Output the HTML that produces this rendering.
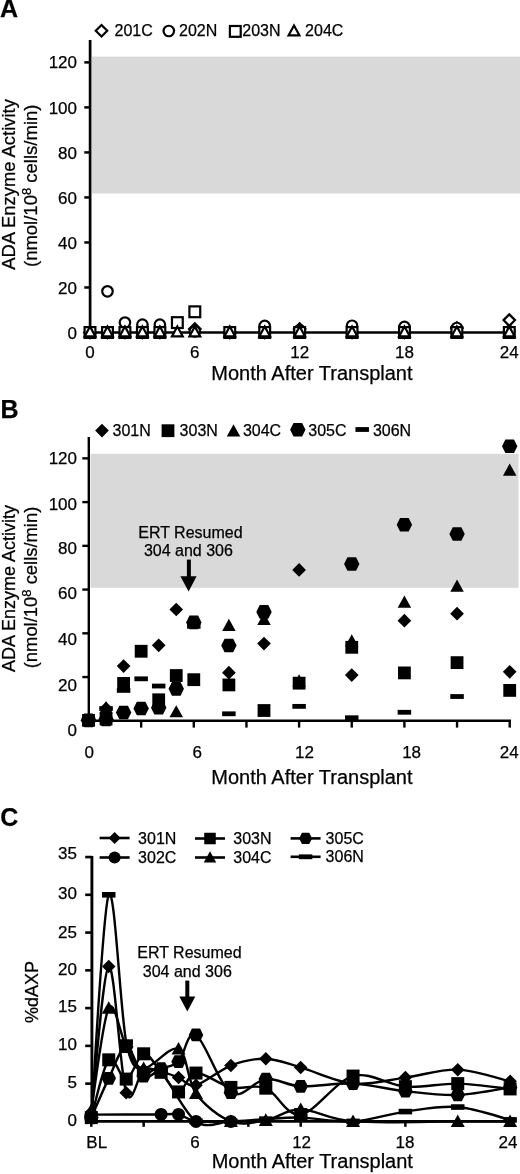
<!DOCTYPE html>
<html><head><meta charset="utf-8"><style>
html,body{margin:0;padding:0;background:#fff;}
svg{display:block;filter:grayscale(1);}
text{font-family:"Liberation Sans", sans-serif;fill:#000;stroke:#000;stroke-width:0.25px;}
</style></head><body>
<svg width="520" height="1174" viewBox="0 0 520 1174">
<rect width="520" height="1174" fill="#fff"/>
<text x="0" y="17.4" font-size="25" text-anchor="start" font-weight="bold" >A</text>
<rect x="92" y="56.6" width="428" height="136.9" fill="#d9d9d9"/>
<line x1="90.1" y1="40" x2="90.1" y2="334" stroke="#000" stroke-width="2.7"/>
<line x1="84.3" y1="332.5" x2="90.1" y2="332.5" stroke="#000" stroke-width="2.5"/>
<text x="77" y="338.6" font-size="17" text-anchor="end" font-weight="normal" >0</text>
<line x1="84.3" y1="287.48" x2="90.1" y2="287.48" stroke="#000" stroke-width="2.5"/>
<text x="77" y="293.58" font-size="17" text-anchor="end" font-weight="normal" >20</text>
<line x1="84.3" y1="242.46" x2="90.1" y2="242.46" stroke="#000" stroke-width="2.5"/>
<text x="77" y="248.56" font-size="17" text-anchor="end" font-weight="normal" >40</text>
<line x1="84.3" y1="197.44" x2="90.1" y2="197.44" stroke="#000" stroke-width="2.5"/>
<text x="77" y="203.54" font-size="17" text-anchor="end" font-weight="normal" >60</text>
<line x1="84.3" y1="152.42" x2="90.1" y2="152.42" stroke="#000" stroke-width="2.5"/>
<text x="77" y="158.52" font-size="17" text-anchor="end" font-weight="normal" >80</text>
<line x1="84.3" y1="107.4" x2="90.1" y2="107.4" stroke="#000" stroke-width="2.5"/>
<text x="77" y="113.5" font-size="17" text-anchor="end" font-weight="normal" >100</text>
<line x1="84.3" y1="62.38" x2="90.1" y2="62.38" stroke="#000" stroke-width="2.5"/>
<text x="77" y="68.48" font-size="17" text-anchor="end" font-weight="normal" >120</text>
<line x1="89" y1="332.5" x2="510" y2="332.5" stroke="#000" stroke-width="2.7"/>
<text x="90" y="358" font-size="17" text-anchor="middle" font-weight="normal" >0</text>
<text x="194.82" y="358" font-size="17" text-anchor="middle" font-weight="normal" >6</text>
<text x="299.64" y="358" font-size="17" text-anchor="middle" font-weight="normal" >12</text>
<text x="404.46" y="358" font-size="17" text-anchor="middle" font-weight="normal" >18</text>
<text x="509.28" y="358" font-size="17" text-anchor="middle" font-weight="normal" >24</text>
<text x="311.9" y="379.9" font-size="20" text-anchor="middle" font-weight="normal" >Month After Transplant</text>
<text transform="translate(15.4,184.5) rotate(-90)" font-size="18.4" text-anchor="middle">ADA Enzyme Activity</text>
<text transform="translate(37,185.8) rotate(-90)" font-size="18.5" text-anchor="middle">(nmol/10<tspan font-size="13" dy="-6.5">8</tspan><tspan dy="6.5"> cells/min)</tspan></text>
<polygon points="101.5,25.05 107.25,30.8 101.5,36.55 95.75,30.8" fill="#fff" stroke="#000" stroke-width="2.2"/>
<text x="114.5" y="36.3" font-size="16" text-anchor="start" font-weight="normal" >201C</text>
<circle cx="168.8" cy="31" r="5.25" fill="#fff" stroke="#000" stroke-width="2.2"/>
<text x="179" y="36.3" font-size="16" text-anchor="start" font-weight="normal" >202N</text>
<rect x="229.9" y="26" width="10.8" height="10.8" fill="#fff" stroke="#000" stroke-width="2.2"/>
<text x="242.3" y="36.3" font-size="16" text-anchor="start" font-weight="normal" >203N</text>
<polygon points="294,25.46 299.4,35.29 288.6,35.29" fill="#fff" stroke="#000" stroke-width="2.2"/>
<text x="305.1" y="36.3" font-size="16" text-anchor="start" font-weight="normal" >204C</text>
<polygon points="90,326.75 95.75,332.5 90,338.25 84.25,332.5" fill="#fff" stroke="#000" stroke-width="2.2"/>
<polygon points="107.47,326.75 113.22,332.5 107.47,338.25 101.72,332.5" fill="#fff" stroke="#000" stroke-width="2.2"/>
<polygon points="124.94,326.75 130.69,332.5 124.94,338.25 119.19,332.5" fill="#fff" stroke="#000" stroke-width="2.2"/>
<polygon points="142.41,326.75 148.16,332.5 142.41,338.25 136.66,332.5" fill="#fff" stroke="#000" stroke-width="2.2"/>
<polygon points="159.88,326.75 165.63,332.5 159.88,338.25 154.13,332.5" fill="#fff" stroke="#000" stroke-width="2.2"/>
<polygon points="194.82,323.37 200.57,329.12 194.82,334.87 189.07,329.12" fill="#fff" stroke="#000" stroke-width="2.2"/>
<polygon points="229.76,326.75 235.51,332.5 229.76,338.25 224.01,332.5" fill="#fff" stroke="#000" stroke-width="2.2"/>
<polygon points="264.7,326.75 270.45,332.5 264.7,338.25 258.95,332.5" fill="#fff" stroke="#000" stroke-width="2.2"/>
<polygon points="299.64,323.37 305.39,329.12 299.64,334.87 293.89,329.12" fill="#fff" stroke="#000" stroke-width="2.2"/>
<polygon points="352.05,326.75 357.8,332.5 352.05,338.25 346.3,332.5" fill="#fff" stroke="#000" stroke-width="2.2"/>
<polygon points="404.46,326.75 410.21,332.5 404.46,338.25 398.71,332.5" fill="#fff" stroke="#000" stroke-width="2.2"/>
<polygon points="456.87,322.25 462.62,328 456.87,333.75 451.12,328" fill="#fff" stroke="#000" stroke-width="2.2"/>
<polygon points="509.28,314.37 515.03,320.12 509.28,325.87 503.53,320.12" fill="#fff" stroke="#000" stroke-width="2.2"/>
<circle cx="90" cy="332.5" r="5.25" fill="#fff" stroke="#000" stroke-width="2.2"/>
<circle cx="107.47" cy="291.31" r="5.25" fill="#fff" stroke="#000" stroke-width="2.2"/>
<circle cx="124.94" cy="322.6" r="5.25" fill="#fff" stroke="#000" stroke-width="2.2"/>
<circle cx="142.41" cy="324.62" r="5.25" fill="#fff" stroke="#000" stroke-width="2.2"/>
<circle cx="159.88" cy="324.62" r="5.25" fill="#fff" stroke="#000" stroke-width="2.2"/>
<circle cx="194.82" cy="331.37" r="5.25" fill="#fff" stroke="#000" stroke-width="2.2"/>
<circle cx="229.76" cy="332.5" r="5.25" fill="#fff" stroke="#000" stroke-width="2.2"/>
<circle cx="264.7" cy="325.97" r="5.25" fill="#fff" stroke="#000" stroke-width="2.2"/>
<circle cx="299.64" cy="330.25" r="5.25" fill="#fff" stroke="#000" stroke-width="2.2"/>
<circle cx="352.05" cy="325.75" r="5.25" fill="#fff" stroke="#000" stroke-width="2.2"/>
<circle cx="404.46" cy="326.87" r="5.25" fill="#fff" stroke="#000" stroke-width="2.2"/>
<circle cx="456.87" cy="328" r="5.25" fill="#fff" stroke="#000" stroke-width="2.2"/>
<circle cx="509.28" cy="331.37" r="5.25" fill="#fff" stroke="#000" stroke-width="2.2"/>
<rect x="84.6" y="327.1" width="10.8" height="10.8" fill="#fff" stroke="#000" stroke-width="2.2"/>
<rect x="102.07" y="327.1" width="10.8" height="10.8" fill="#fff" stroke="#000" stroke-width="2.2"/>
<rect x="119.54" y="327.1" width="10.8" height="10.8" fill="#fff" stroke="#000" stroke-width="2.2"/>
<rect x="137.01" y="327.1" width="10.8" height="10.8" fill="#fff" stroke="#000" stroke-width="2.2"/>
<rect x="154.48" y="327.1" width="10.8" height="10.8" fill="#fff" stroke="#000" stroke-width="2.2"/>
<rect x="171.95" y="317.2" width="10.8" height="10.8" fill="#fff" stroke="#000" stroke-width="2.2"/>
<rect x="189.42" y="306.39" width="10.8" height="10.8" fill="#fff" stroke="#000" stroke-width="2.2"/>
<rect x="224.36" y="327.1" width="10.8" height="10.8" fill="#fff" stroke="#000" stroke-width="2.2"/>
<rect x="259.3" y="327.1" width="10.8" height="10.8" fill="#fff" stroke="#000" stroke-width="2.2"/>
<rect x="294.24" y="327.1" width="10.8" height="10.8" fill="#fff" stroke="#000" stroke-width="2.2"/>
<rect x="346.65" y="327.1" width="10.8" height="10.8" fill="#fff" stroke="#000" stroke-width="2.2"/>
<rect x="399.06" y="327.1" width="10.8" height="10.8" fill="#fff" stroke="#000" stroke-width="2.2"/>
<rect x="451.47" y="327.1" width="10.8" height="10.8" fill="#fff" stroke="#000" stroke-width="2.2"/>
<rect x="503.88" y="327.1" width="10.8" height="10.8" fill="#fff" stroke="#000" stroke-width="2.2"/>
<polygon points="90,326.56 95.4,336.39 84.6,336.39" fill="#fff" stroke="#000" stroke-width="2.2"/>
<polygon points="107.47,326.56 112.87,336.39 102.07,336.39" fill="#fff" stroke="#000" stroke-width="2.2"/>
<polygon points="124.94,326.56 130.34,336.39 119.54,336.39" fill="#fff" stroke="#000" stroke-width="2.2"/>
<polygon points="142.41,326.56 147.81,336.39 137.01,336.39" fill="#fff" stroke="#000" stroke-width="2.2"/>
<polygon points="159.88,326.56 165.28,336.39 154.48,336.39" fill="#fff" stroke="#000" stroke-width="2.2"/>
<polygon points="177.35,326.56 182.75,336.39 171.95,336.39" fill="#fff" stroke="#000" stroke-width="2.2"/>
<polygon points="194.82,326.56 200.22,336.39 189.42,336.39" fill="#fff" stroke="#000" stroke-width="2.2"/>
<polygon points="229.76,326.56 235.16,336.39 224.36,336.39" fill="#fff" stroke="#000" stroke-width="2.2"/>
<polygon points="264.7,326.56 270.1,336.39 259.3,336.39" fill="#fff" stroke="#000" stroke-width="2.2"/>
<polygon points="299.64,326.56 305.04,336.39 294.24,336.39" fill="#fff" stroke="#000" stroke-width="2.2"/>
<polygon points="352.05,326.56 357.45,336.39 346.65,336.39" fill="#fff" stroke="#000" stroke-width="2.2"/>
<polygon points="404.46,326.56 409.86,336.39 399.06,336.39" fill="#fff" stroke="#000" stroke-width="2.2"/>
<polygon points="456.87,326.56 462.27,336.39 451.47,336.39" fill="#fff" stroke="#000" stroke-width="2.2"/>
<polygon points="509.28,326.56 514.68,336.39 503.88,336.39" fill="#fff" stroke="#000" stroke-width="2.2"/>
<text x="0.5" y="418.2" font-size="25" text-anchor="start" font-weight="bold" >B</text>
<rect x="90.5" y="453.8" width="428" height="134" fill="#d9d9d9"/>
<line x1="88.8" y1="437" x2="88.8" y2="722" stroke="#000" stroke-width="2.4"/>
<text x="77" y="736.1" font-size="17" text-anchor="end" font-weight="normal" >0</text>
<line x1="82.3" y1="677.06" x2="88.8" y2="677.06" stroke="#000" stroke-width="2.4"/>
<text x="77" y="690.7" font-size="17" text-anchor="end" font-weight="normal" >20</text>
<line x1="82.3" y1="633.32" x2="88.8" y2="633.32" stroke="#000" stroke-width="2.4"/>
<text x="77" y="645" font-size="17" text-anchor="end" font-weight="normal" >40</text>
<line x1="82.3" y1="589.58" x2="88.8" y2="589.58" stroke="#000" stroke-width="2.4"/>
<text x="77" y="598.9" font-size="17" text-anchor="end" font-weight="normal" >60</text>
<line x1="82.3" y1="545.84" x2="88.8" y2="545.84" stroke="#000" stroke-width="2.4"/>
<text x="77" y="554.1" font-size="17" text-anchor="end" font-weight="normal" >80</text>
<line x1="82.3" y1="502.1" x2="88.8" y2="502.1" stroke="#000" stroke-width="2.4"/>
<text x="77" y="509.7" font-size="17" text-anchor="end" font-weight="normal" >100</text>
<line x1="82.3" y1="458.36" x2="88.8" y2="458.36" stroke="#000" stroke-width="2.4"/>
<text x="77" y="463.7" font-size="17" text-anchor="end" font-weight="normal" >120</text>
<line x1="87.6" y1="720.8" x2="511" y2="720.8" stroke="#000" stroke-width="2.4"/>
<line x1="141.15" y1="720.8" x2="141.15" y2="727.6" stroke="#000" stroke-width="2.4"/>
<line x1="193.8" y1="720.8" x2="193.8" y2="727.6" stroke="#000" stroke-width="2.4"/>
<line x1="246.45" y1="720.8" x2="246.45" y2="727.6" stroke="#000" stroke-width="2.4"/>
<line x1="299.1" y1="720.8" x2="299.1" y2="727.6" stroke="#000" stroke-width="2.4"/>
<line x1="351.75" y1="720.8" x2="351.75" y2="727.6" stroke="#000" stroke-width="2.4"/>
<line x1="404.4" y1="720.8" x2="404.4" y2="727.6" stroke="#000" stroke-width="2.4"/>
<line x1="457.05" y1="720.8" x2="457.05" y2="727.6" stroke="#000" stroke-width="2.4"/>
<line x1="509.7" y1="720.8" x2="509.7" y2="727.6" stroke="#000" stroke-width="2.4"/>
<text x="89.2" y="758.3" font-size="17" text-anchor="middle" font-weight="normal" >0</text>
<text x="197.3" y="758.3" font-size="17" text-anchor="middle" font-weight="normal" >6</text>
<text x="304.5" y="758.3" font-size="17" text-anchor="middle" font-weight="normal" >12</text>
<text x="411.6" y="758.3" font-size="17" text-anchor="middle" font-weight="normal" >18</text>
<text x="509.3" y="758.3" font-size="17" text-anchor="middle" font-weight="normal" >24</text>
<text x="311.9" y="784.4" font-size="20" text-anchor="middle" font-weight="normal" >Month After Transplant</text>
<text transform="translate(15.4,588.5) rotate(-90)" font-size="18" text-anchor="middle">ADA Enzyme Activity</text>
<text transform="translate(37,587.5) rotate(-90)" font-size="18.4" text-anchor="middle">(nmol/10<tspan font-size="13" dy="-6.5">8</tspan><tspan dy="6.5"> cells/min)</tspan></text>
<polygon points="102,423.75 108.85,430.6 102,437.45 95.15,430.6" fill="#000" stroke="#000" stroke-width="0"/>
<text x="112.5" y="435.6" font-size="16" text-anchor="start" font-weight="normal" >301N</text>
<rect x="161.6" y="424.3" width="12.8" height="12.8" fill="#000" stroke="#000" stroke-width="0"/>
<text x="179.6" y="435.6" font-size="16" text-anchor="start" font-weight="normal" >303N</text>
<polygon points="233.5,424.32 240.25,436.47 226.75,436.47" fill="#000" stroke="#000" stroke-width="0"/>
<text x="242.9" y="435.6" font-size="16" text-anchor="start" font-weight="normal" >304C</text>
<polygon points="290.1,429.7 293.49,422.92 302.11,422.92 305.5,429.7 302.11,436.48 293.49,436.48" fill="#000" stroke="#000" stroke-width="0"/>
<text x="308.3" y="435.6" font-size="16" text-anchor="start" font-weight="normal" >305C</text>
<rect x="355.45" y="427.1" width="13.5" height="4.8" fill="#000" stroke="#000" stroke-width="0"/>
<text x="372.9" y="435.6" font-size="16" text-anchor="start" font-weight="normal" >306N</text>
<text x="190.4" y="538" font-size="16" text-anchor="middle" font-weight="normal" >ERT Resumed</text>
<text x="188.4" y="556" font-size="16" text-anchor="middle" font-weight="normal" >304 and 306</text>
<rect x="186.9" y="559.6" width="4" height="19" fill="#000"/>
<polygon points="180.4,576.3 196.6,576.3 188.6,591.5" fill="#000"/>
<polygon points="88.5,713.29 95.35,720.14 88.5,726.99 81.65,720.14" fill="#000" stroke="#000" stroke-width="0"/>
<polygon points="106.05,701.7 112.9,708.55 106.05,715.4 99.2,708.55" fill="#000" stroke="#000" stroke-width="0"/>
<polygon points="123.6,659.27 130.45,666.12 123.6,672.98 116.75,666.12" fill="#000" stroke="#000" stroke-width="0"/>
<polygon points="158.7,638.5 165.55,645.35 158.7,652.2 151.85,645.35" fill="#000" stroke="#000" stroke-width="0"/>
<polygon points="176.25,602.63 183.1,609.48 176.25,616.33 169.4,609.48" fill="#000" stroke="#000" stroke-width="0"/>
<polygon points="228.9,665.84 235.75,672.69 228.9,679.54 222.05,672.69" fill="#000" stroke="#000" stroke-width="0"/>
<polygon points="264,636.75 270.85,643.6 264,650.45 257.15,643.6" fill="#000" stroke="#000" stroke-width="0"/>
<polygon points="299.1,563.05 305.95,569.9 299.1,576.75 292.25,569.9" fill="#000" stroke="#000" stroke-width="0"/>
<polygon points="351.75,668.24 358.6,675.09 351.75,681.94 344.9,675.09" fill="#000" stroke="#000" stroke-width="0"/>
<polygon points="404.4,613.79 411.25,620.64 404.4,627.49 397.55,620.64" fill="#000" stroke="#000" stroke-width="0"/>
<polygon points="457.05,606.79 463.9,613.64 457.05,620.49 450.2,613.64" fill="#000" stroke="#000" stroke-width="0"/>
<polygon points="509.7,664.96 516.55,671.81 509.7,678.66 502.85,671.81" fill="#000" stroke="#000" stroke-width="0"/>
<rect x="82.1" y="713.96" width="12.8" height="12.8" fill="#000" stroke="#000" stroke-width="0"/>
<rect x="99.65" y="712.65" width="12.8" height="12.8" fill="#000" stroke="#000" stroke-width="0"/>
<rect x="117.2" y="677" width="12.8" height="12.8" fill="#000" stroke="#000" stroke-width="0"/>
<rect x="134.75" y="644.85" width="12.8" height="12.8" fill="#000" stroke="#000" stroke-width="0"/>
<rect x="152.3" y="693.4" width="12.8" height="12.8" fill="#000" stroke="#000" stroke-width="0"/>
<rect x="169.85" y="669.13" width="12.8" height="12.8" fill="#000" stroke="#000" stroke-width="0"/>
<rect x="187.4" y="673.28" width="12.8" height="12.8" fill="#000" stroke="#000" stroke-width="0"/>
<rect x="222.5" y="678.53" width="12.8" height="12.8" fill="#000" stroke="#000" stroke-width="0"/>
<rect x="257.6" y="704.12" width="12.8" height="12.8" fill="#000" stroke="#000" stroke-width="0"/>
<rect x="292.7" y="676.78" width="12.8" height="12.8" fill="#000" stroke="#000" stroke-width="0"/>
<rect x="345.35" y="640.92" width="12.8" height="12.8" fill="#000" stroke="#000" stroke-width="0"/>
<rect x="398" y="666.5" width="12.8" height="12.8" fill="#000" stroke="#000" stroke-width="0"/>
<rect x="450.65" y="656.23" width="12.8" height="12.8" fill="#000" stroke="#000" stroke-width="0"/>
<rect x="503.3" y="684" width="12.8" height="12.8" fill="#000" stroke="#000" stroke-width="0"/>
<polygon points="88.5,713.68 95.25,725.83 81.75,725.83" fill="#000" stroke="#000" stroke-width="0"/>
<polygon points="106.05,701 112.8,713.15 99.3,713.15" fill="#000" stroke="#000" stroke-width="0"/>
<polygon points="176.25,705.15 183,717.3 169.5,717.3" fill="#000" stroke="#000" stroke-width="0"/>
<polygon points="228.9,618.76 235.65,630.91 222.15,630.91" fill="#000" stroke="#000" stroke-width="0"/>
<polygon points="264,612.86 270.75,625.01 257.25,625.01" fill="#000" stroke="#000" stroke-width="0"/>
<polygon points="299.1,674.31 305.85,686.46 292.35,686.46" fill="#000" stroke="#000" stroke-width="0"/>
<polygon points="351.75,634.29 358.5,646.44 345,646.44" fill="#000" stroke="#000" stroke-width="0"/>
<polygon points="404.4,595.58 411.15,607.73 397.65,607.73" fill="#000" stroke="#000" stroke-width="0"/>
<polygon points="457.05,579.62 463.8,591.77 450.3,591.77" fill="#000" stroke="#000" stroke-width="0"/>
<polygon points="509.7,463.49 516.45,475.64 502.95,475.64" fill="#000" stroke="#000" stroke-width="0"/>
<polygon points="80.8,720.36 84.19,713.59 92.81,713.59 96.2,720.36 92.81,727.14 84.19,727.14" fill="#000" stroke="#000" stroke-width="0"/>
<polygon points="98.35,719.49 101.74,712.71 110.36,712.71 113.75,719.49 110.36,726.26 101.74,726.26" fill="#000" stroke="#000" stroke-width="0"/>
<polygon points="115.9,712.49 119.29,705.71 127.91,705.71 131.3,712.49 127.91,719.27 119.29,719.27" fill="#000" stroke="#000" stroke-width="0"/>
<polygon points="133.45,708.55 136.84,701.78 145.46,701.78 148.85,708.55 145.46,715.33 136.84,715.33" fill="#000" stroke="#000" stroke-width="0"/>
<polygon points="151,707.68 154.39,700.9 163.01,700.9 166.4,707.68 163.01,714.45 154.39,714.45" fill="#000" stroke="#000" stroke-width="0"/>
<polygon points="168.55,688.87 171.94,682.09 180.56,682.09 183.95,688.87 180.56,695.65 171.94,695.65" fill="#000" stroke="#000" stroke-width="0"/>
<polygon points="186.1,622.38 189.49,615.61 198.11,615.61 201.5,622.38 198.11,629.16 189.49,629.16" fill="#000" stroke="#000" stroke-width="0"/>
<polygon points="221.2,645.57 224.59,638.79 233.21,638.79 236.6,645.57 233.21,652.34 224.59,652.34" fill="#000" stroke="#000" stroke-width="0"/>
<polygon points="256.3,611.89 259.69,605.11 268.31,605.11 271.7,611.89 268.31,618.66 259.69,618.66" fill="#000" stroke="#000" stroke-width="0"/>
<polygon points="344.05,563.99 347.44,557.22 356.06,557.22 359.45,563.99 356.06,570.77 347.44,570.77" fill="#000" stroke="#000" stroke-width="0"/>
<polygon points="396.7,524.84 400.09,518.07 408.71,518.07 412.1,524.84 408.71,531.62 400.09,531.62" fill="#000" stroke="#000" stroke-width="0"/>
<polygon points="449.35,534.03 452.74,527.25 461.36,527.25 464.75,534.03 461.36,540.81 452.74,540.81" fill="#000" stroke="#000" stroke-width="0"/>
<polygon points="502,446.33 505.39,439.56 514.01,439.56 517.4,446.33 514.01,453.11 505.39,453.11" fill="#000" stroke="#000" stroke-width="0"/>
<rect x="81.75" y="717.31" width="13.5" height="4.8" fill="#000" stroke="#000" stroke-width="0"/>
<rect x="99.3" y="706.15" width="13.5" height="4.8" fill="#000" stroke="#000" stroke-width="0"/>
<rect x="116.85" y="688" width="13.5" height="4.8" fill="#000" stroke="#000" stroke-width="0"/>
<rect x="134.4" y="676.41" width="13.5" height="4.8" fill="#000" stroke="#000" stroke-width="0"/>
<rect x="151.95" y="683.63" width="13.5" height="4.8" fill="#000" stroke="#000" stroke-width="0"/>
<rect x="187.05" y="623.92" width="13.5" height="4.8" fill="#000" stroke="#000" stroke-width="0"/>
<rect x="222.15" y="711.4" width="13.5" height="4.8" fill="#000" stroke="#000" stroke-width="0"/>
<rect x="292.35" y="703.97" width="13.5" height="4.8" fill="#000" stroke="#000" stroke-width="0"/>
<rect x="345" y="715.34" width="13.5" height="4.8" fill="#000" stroke="#000" stroke-width="0"/>
<rect x="397.65" y="709.87" width="13.5" height="4.8" fill="#000" stroke="#000" stroke-width="0"/>
<rect x="450.3" y="694.12" width="13.5" height="4.8" fill="#000" stroke="#000" stroke-width="0"/>
<text x="0.3" y="826.4" font-size="25" text-anchor="start" font-weight="bold" >C</text>
<line x1="91.9" y1="856" x2="91.9" y2="1122.8" stroke="#000" stroke-width="2.9"/>
<line x1="85.2" y1="1121.4" x2="91.9" y2="1121.4" stroke="#000" stroke-width="2.6"/>
<text x="77" y="1126.1" font-size="17" text-anchor="end" font-weight="normal" >0</text>
<line x1="85.2" y1="1083.63" x2="91.9" y2="1083.63" stroke="#000" stroke-width="2.6"/>
<text x="77" y="1087.7" font-size="17" text-anchor="end" font-weight="normal" >5</text>
<line x1="85.2" y1="1045.87" x2="91.9" y2="1045.87" stroke="#000" stroke-width="2.6"/>
<text x="77" y="1050.1" font-size="17" text-anchor="end" font-weight="normal" >10</text>
<line x1="85.2" y1="1008.11" x2="91.9" y2="1008.11" stroke="#000" stroke-width="2.6"/>
<text x="77" y="1012.4" font-size="17" text-anchor="end" font-weight="normal" >15</text>
<line x1="85.2" y1="970.34" x2="91.9" y2="970.34" stroke="#000" stroke-width="2.6"/>
<text x="77" y="974.6" font-size="17" text-anchor="end" font-weight="normal" >20</text>
<line x1="85.2" y1="932.58" x2="91.9" y2="932.58" stroke="#000" stroke-width="2.6"/>
<text x="77" y="937.7" font-size="17" text-anchor="end" font-weight="normal" >25</text>
<line x1="85.2" y1="894.81" x2="91.9" y2="894.81" stroke="#000" stroke-width="2.6"/>
<text x="77" y="898.7" font-size="17" text-anchor="end" font-weight="normal" >30</text>
<line x1="85.2" y1="857.05" x2="91.9" y2="857.05" stroke="#000" stroke-width="2.6"/>
<text x="77" y="859.4" font-size="17" text-anchor="end" font-weight="normal" >35</text>
<line x1="90.5" y1="1121.4" x2="511" y2="1121.4" stroke="#000" stroke-width="2.7"/>
<line x1="91.3" y1="1121.4" x2="91.3" y2="1126.8" stroke="#000" stroke-width="2.5"/>
<line x1="143.65" y1="1121.4" x2="143.65" y2="1126.8" stroke="#000" stroke-width="2.5"/>
<line x1="196" y1="1121.4" x2="196" y2="1126.8" stroke="#000" stroke-width="2.5"/>
<line x1="248.35" y1="1121.4" x2="248.35" y2="1126.8" stroke="#000" stroke-width="2.5"/>
<line x1="300.7" y1="1121.4" x2="300.7" y2="1126.8" stroke="#000" stroke-width="2.5"/>
<line x1="353.05" y1="1121.4" x2="353.05" y2="1126.8" stroke="#000" stroke-width="2.5"/>
<line x1="405.4" y1="1121.4" x2="405.4" y2="1126.8" stroke="#000" stroke-width="2.5"/>
<line x1="457.75" y1="1121.4" x2="457.75" y2="1126.8" stroke="#000" stroke-width="2.5"/>
<line x1="510.1" y1="1121.4" x2="510.1" y2="1126.8" stroke="#000" stroke-width="2.5"/>
<text x="96.7" y="1148" font-size="17" text-anchor="middle" font-weight="normal" >BL</text>
<text x="195.1" y="1147.5" font-size="17" text-anchor="middle" font-weight="normal" >6</text>
<text x="301.6" y="1147.5" font-size="17" text-anchor="middle" font-weight="normal" >12</text>
<text x="404.9" y="1147.5" font-size="17" text-anchor="middle" font-weight="normal" >18</text>
<text x="508" y="1147.5" font-size="17" text-anchor="middle" font-weight="normal" >24</text>
<text x="312.3" y="1168.2" font-size="20" text-anchor="middle" font-weight="normal" >Month After Transplant</text>
<text transform="translate(37.5,992) rotate(-90)" font-size="18" text-anchor="middle">%dAXP</text>
<line x1="99.6" y1="838" x2="129.6" y2="838" stroke="#000" stroke-width="2.6"/>
<polygon points="114.6,832 120.6,838 114.6,844 108.6,838" fill="#000" stroke="#000" stroke-width="0"/>
<text x="138.1" y="843.6" font-size="16" text-anchor="start" font-weight="normal" >301N</text>
<line x1="99.6" y1="857.5" x2="129.6" y2="857.5" stroke="#000" stroke-width="2.6"/>
<circle cx="114.6" cy="857.5" r="6" fill="#000" stroke="#000" stroke-width="0"/>
<text x="138.1" y="863.1" font-size="16" text-anchor="start" font-weight="normal" >302C</text>
<line x1="195" y1="838.5" x2="225" y2="838.5" stroke="#000" stroke-width="2.6"/>
<rect x="204.25" y="832.75" width="11.5" height="11.5" fill="#000" stroke="#000" stroke-width="0"/>
<text x="233.3" y="844.1" font-size="16" text-anchor="start" font-weight="normal" >303N</text>
<line x1="195" y1="857.5" x2="225" y2="857.5" stroke="#000" stroke-width="2.6"/>
<polygon points="210,851.31 216.25,862.56 203.75,862.56" fill="#000" stroke="#000" stroke-width="0"/>
<text x="233.3" y="863.1" font-size="16" text-anchor="start" font-weight="normal" >304C</text>
<line x1="290.6" y1="838.4" x2="320.6" y2="838.4" stroke="#000" stroke-width="2.6"/>
<polygon points="299.1,838.4 301.96,832.68 309.24,832.68 312.1,838.4 309.24,844.12 301.96,844.12" fill="#000" stroke="#000" stroke-width="0"/>
<text x="325.6" y="844" font-size="16" text-anchor="start" font-weight="normal" >305C</text>
<line x1="290.6" y1="856.8" x2="320.6" y2="856.8" stroke="#000" stroke-width="2.6"/>
<rect x="298.85" y="854.4" width="13.5" height="4.8" fill="#000" stroke="#000" stroke-width="0"/>
<text x="325.6" y="862.4" font-size="16" text-anchor="start" font-weight="normal" >306N</text>
<text x="189.4" y="957.7" font-size="16" text-anchor="middle" font-weight="normal" >ERT Resumed</text>
<text x="187.3" y="977.1" font-size="16" text-anchor="middle" font-weight="normal" >304 and 306</text>
<rect x="185.3" y="980.6" width="4" height="19" fill="#000"/>
<polygon points="179.3,996.5 195.3,996.5 187.3,1011.5" fill="#000"/>
<path d="M91.3,1114.6 C102.93,1114.58 146.56,1114.48 161.1,1114.45 C175.64,1114.43 172.73,1113.29 178.55,1114.45 C184.37,1115.61 187.28,1120.24 196,1121.4 C204.72,1122.56 225.08,1121.4 230.9,1121.4" fill="none" stroke="#000" stroke-width="2.4"/>
<path d="M91.3,1117.62 C94.21,1080.49 102.93,907.4 108.75,894.81 C114.57,882.22 120.38,1012.51 126.2,1042.09 C132.02,1071.68 137.83,1067.27 143.65,1072.31 C149.47,1077.34 152.38,1064.12 161.1,1072.31 C169.82,1080.49 184.37,1113.22 196,1121.4 C207.63,1129.58 219.27,1121.78 230.9,1121.4 C242.53,1121.02 254.17,1119.76 265.8,1119.13 C277.43,1118.5 286.16,1117.25 300.7,1117.62 C315.24,1118 335.6,1122.41 353.05,1121.4 C370.5,1120.39 387.95,1113.97 405.4,1111.58 C422.85,1109.19 440.3,1105.66 457.75,1107.05 C475.2,1108.43 501.38,1117.75 510.1,1119.89" fill="none" stroke="#000" stroke-width="2.4"/>
<path d="M91.3,1113.85 C94.21,1089.3 102.93,970.09 108.75,966.56 C114.57,963.04 120.38,1075.45 126.2,1092.7 C132.02,1109.94 137.83,1073.56 143.65,1070.04 C149.47,1066.51 155.28,1070.29 161.1,1071.55 C166.92,1072.81 172.73,1075.33 178.55,1077.59 C184.37,1079.86 187.28,1087.16 196,1085.15 C204.72,1083.13 219.27,1069.91 230.9,1065.51 C242.53,1061.1 254.17,1058.4 265.8,1058.71 C277.43,1059.02 286.16,1063.24 300.7,1067.4 C315.24,1071.55 335.6,1081.94 353.05,1083.63 C370.5,1085.33 387.95,1079.92 405.4,1077.59 C422.85,1075.26 440.3,1069.03 457.75,1069.66 C475.2,1070.29 501.38,1079.42 510.1,1081.37" fill="none" stroke="#000" stroke-width="2.4"/>
<path d="M91.3,1110.07 C94.21,1093.08 102.93,1018.68 108.75,1008.11 C114.57,997.53 120.38,1036.55 126.2,1046.63 C132.02,1056.7 134.92,1068.15 143.65,1068.53 C152.37,1068.91 169.83,1044.74 178.55,1048.89 C187.28,1053.05 187.28,1081.37 196,1093.45 C204.72,1105.54 219.27,1116.93 230.9,1121.4 C242.53,1125.87 254.17,1122.28 265.8,1120.27 C277.43,1118.25 286.16,1109.13 300.7,1109.32 C315.24,1109.5 326.88,1119.39 353.05,1121.4 C379.23,1123.41 431.57,1121.4 457.75,1121.4 C483.93,1121.4 501.38,1121.4 510.1,1121.4" fill="none" stroke="#000" stroke-width="2.4"/>
<path d="M91.3,1117.62 C94.21,1107.99 102.93,1066.26 108.75,1059.84 C114.57,1053.42 120.38,1080.11 126.2,1079.1 C132.02,1078.1 137.83,1054.93 143.65,1053.8 C149.47,1052.67 155.28,1065.95 161.1,1072.31 C166.92,1078.66 172.73,1091.82 178.55,1091.94 C184.37,1092.07 187.28,1073.82 196,1073.06 C204.72,1072.31 219.27,1084.89 230.9,1087.41 C242.53,1089.93 254.17,1083.64 265.8,1088.17 C277.43,1092.7 286.16,1116.62 300.7,1114.6 C315.24,1112.59 335.6,1080.74 353.05,1076.08 C370.5,1071.42 387.95,1085.4 405.4,1086.66 C422.85,1087.92 440.3,1083.26 457.75,1083.63 C475.2,1084.01 501.38,1088.04 510.1,1088.92" fill="none" stroke="#000" stroke-width="2.4"/>
<path d="M91.3,1117.62 C94.21,1111.08 102.93,1090.18 108.75,1078.35 C114.57,1066.51 120.38,1047 126.2,1046.63 C132.02,1046.25 137.83,1072.43 143.65,1076.08 C149.47,1079.73 155.28,1070.92 161.1,1068.53 C166.92,1066.14 172.73,1067.33 178.55,1061.73 C184.37,1056.13 187.28,1029.76 196,1034.92 C204.72,1040.08 219.27,1085.33 230.9,1092.7 C242.53,1100.06 254.17,1080.17 265.8,1079.1 C277.43,1078.03 286.16,1085.52 300.7,1086.28 C315.24,1087.03 335.6,1082.82 353.05,1083.63 C370.5,1084.45 387.95,1089.3 405.4,1091.19 C422.85,1093.08 440.3,1095.59 457.75,1094.96 C475.2,1094.34 501.38,1088.67 510.1,1087.41" fill="none" stroke="#000" stroke-width="2.4"/>
<circle cx="91.3" cy="1114.6" r="6.5" fill="#000" stroke="#000" stroke-width="0"/>
<circle cx="161.1" cy="1114.45" r="6.5" fill="#000" stroke="#000" stroke-width="0"/>
<circle cx="178.55" cy="1114.45" r="6.5" fill="#000" stroke="#000" stroke-width="0"/>
<circle cx="196" cy="1121.4" r="6.5" fill="#000" stroke="#000" stroke-width="0"/>
<circle cx="230.9" cy="1121.4" r="6.5" fill="#000" stroke="#000" stroke-width="0"/>
<rect x="84.55" y="1114.82" width="13.5" height="5.6" fill="#000" stroke="#000" stroke-width="0"/>
<rect x="102" y="892.01" width="13.5" height="5.6" fill="#000" stroke="#000" stroke-width="0"/>
<rect x="119.45" y="1039.29" width="13.5" height="5.6" fill="#000" stroke="#000" stroke-width="0"/>
<rect x="136.9" y="1069.51" width="13.5" height="5.6" fill="#000" stroke="#000" stroke-width="0"/>
<rect x="154.35" y="1069.51" width="13.5" height="5.6" fill="#000" stroke="#000" stroke-width="0"/>
<rect x="189.25" y="1118.6" width="13.5" height="5.6" fill="#000" stroke="#000" stroke-width="0"/>
<rect x="224.15" y="1118.6" width="13.5" height="5.6" fill="#000" stroke="#000" stroke-width="0"/>
<rect x="259.05" y="1116.33" width="13.5" height="5.6" fill="#000" stroke="#000" stroke-width="0"/>
<rect x="293.95" y="1114.82" width="13.5" height="5.6" fill="#000" stroke="#000" stroke-width="0"/>
<rect x="346.3" y="1118.6" width="13.5" height="5.6" fill="#000" stroke="#000" stroke-width="0"/>
<rect x="398.65" y="1108.78" width="13.5" height="5.6" fill="#000" stroke="#000" stroke-width="0"/>
<rect x="451" y="1104.25" width="13.5" height="5.6" fill="#000" stroke="#000" stroke-width="0"/>
<rect x="503.35" y="1117.09" width="13.5" height="5.6" fill="#000" stroke="#000" stroke-width="0"/>
<polygon points="91.3,1107.1 98.05,1113.85 91.3,1120.6 84.55,1113.85" fill="#000" stroke="#000" stroke-width="0"/>
<polygon points="108.75,959.81 115.5,966.56 108.75,973.31 102,966.56" fill="#000" stroke="#000" stroke-width="0"/>
<polygon points="126.2,1085.95 132.95,1092.7 126.2,1099.45 119.45,1092.7" fill="#000" stroke="#000" stroke-width="0"/>
<polygon points="143.65,1063.29 150.4,1070.04 143.65,1076.79 136.9,1070.04" fill="#000" stroke="#000" stroke-width="0"/>
<polygon points="161.1,1064.8 167.85,1071.55 161.1,1078.3 154.35,1071.55" fill="#000" stroke="#000" stroke-width="0"/>
<polygon points="178.55,1070.84 185.3,1077.59 178.55,1084.34 171.8,1077.59" fill="#000" stroke="#000" stroke-width="0"/>
<polygon points="196,1078.4 202.75,1085.15 196,1091.9 189.25,1085.15" fill="#000" stroke="#000" stroke-width="0"/>
<polygon points="230.9,1058.76 237.65,1065.51 230.9,1072.26 224.15,1065.51" fill="#000" stroke="#000" stroke-width="0"/>
<polygon points="265.8,1051.96 272.55,1058.71 265.8,1065.46 259.05,1058.71" fill="#000" stroke="#000" stroke-width="0"/>
<polygon points="300.7,1060.65 307.45,1067.4 300.7,1074.15 293.95,1067.4" fill="#000" stroke="#000" stroke-width="0"/>
<polygon points="353.05,1076.88 359.8,1083.63 353.05,1090.38 346.3,1083.63" fill="#000" stroke="#000" stroke-width="0"/>
<polygon points="405.4,1070.84 412.15,1077.59 405.4,1084.34 398.65,1077.59" fill="#000" stroke="#000" stroke-width="0"/>
<polygon points="457.75,1062.91 464.5,1069.66 457.75,1076.41 451,1069.66" fill="#000" stroke="#000" stroke-width="0"/>
<polygon points="510.1,1074.62 516.85,1081.37 510.1,1088.12 503.35,1081.37" fill="#000" stroke="#000" stroke-width="0"/>
<polygon points="91.3,1103.14 98.3,1115.74 84.3,1115.74" fill="#000" stroke="#000" stroke-width="0"/>
<polygon points="108.75,1001.18 115.75,1013.78 101.75,1013.78" fill="#000" stroke="#000" stroke-width="0"/>
<polygon points="126.2,1039.7 133.2,1052.3 119.2,1052.3" fill="#000" stroke="#000" stroke-width="0"/>
<polygon points="143.65,1061.6 150.65,1074.2 136.65,1074.2" fill="#000" stroke="#000" stroke-width="0"/>
<polygon points="178.55,1041.96 185.55,1054.56 171.55,1054.56" fill="#000" stroke="#000" stroke-width="0"/>
<polygon points="196,1086.52 203,1099.12 189,1099.12" fill="#000" stroke="#000" stroke-width="0"/>
<polygon points="230.9,1114.47 237.9,1127.07 223.9,1127.07" fill="#000" stroke="#000" stroke-width="0"/>
<polygon points="265.8,1113.34 272.8,1125.94 258.8,1125.94" fill="#000" stroke="#000" stroke-width="0"/>
<polygon points="300.7,1102.39 307.7,1114.99 293.7,1114.99" fill="#000" stroke="#000" stroke-width="0"/>
<polygon points="353.05,1114.47 360.05,1127.07 346.05,1127.07" fill="#000" stroke="#000" stroke-width="0"/>
<polygon points="457.75,1114.47 464.75,1127.07 450.75,1127.07" fill="#000" stroke="#000" stroke-width="0"/>
<polygon points="510.1,1114.47 517.1,1127.07 503.1,1127.07" fill="#000" stroke="#000" stroke-width="0"/>
<rect x="84.8" y="1111.12" width="13" height="13" fill="#000" stroke="#000" stroke-width="0"/>
<rect x="102.25" y="1053.34" width="13" height="13" fill="#000" stroke="#000" stroke-width="0"/>
<rect x="119.7" y="1072.6" width="13" height="13" fill="#000" stroke="#000" stroke-width="0"/>
<rect x="137.15" y="1047.3" width="13" height="13" fill="#000" stroke="#000" stroke-width="0"/>
<rect x="154.6" y="1065.81" width="13" height="13" fill="#000" stroke="#000" stroke-width="0"/>
<rect x="172.05" y="1085.44" width="13" height="13" fill="#000" stroke="#000" stroke-width="0"/>
<rect x="189.5" y="1066.56" width="13" height="13" fill="#000" stroke="#000" stroke-width="0"/>
<rect x="224.4" y="1080.91" width="13" height="13" fill="#000" stroke="#000" stroke-width="0"/>
<rect x="259.3" y="1081.67" width="13" height="13" fill="#000" stroke="#000" stroke-width="0"/>
<rect x="294.2" y="1108.1" width="13" height="13" fill="#000" stroke="#000" stroke-width="0"/>
<rect x="346.55" y="1069.58" width="13" height="13" fill="#000" stroke="#000" stroke-width="0"/>
<rect x="398.9" y="1080.16" width="13" height="13" fill="#000" stroke="#000" stroke-width="0"/>
<rect x="451.25" y="1077.13" width="13" height="13" fill="#000" stroke="#000" stroke-width="0"/>
<rect x="503.6" y="1082.42" width="13" height="13" fill="#000" stroke="#000" stroke-width="0"/>
<polygon points="84.05,1117.62 87.24,1111.24 95.36,1111.24 98.55,1117.62 95.36,1124 87.24,1124" fill="#000" stroke="#000" stroke-width="0"/>
<polygon points="101.5,1078.35 104.69,1071.97 112.81,1071.97 116,1078.35 112.81,1084.73 104.69,1084.73" fill="#000" stroke="#000" stroke-width="0"/>
<polygon points="118.95,1046.63 122.14,1040.25 130.26,1040.25 133.45,1046.63 130.26,1053.01 122.14,1053.01" fill="#000" stroke="#000" stroke-width="0"/>
<polygon points="136.4,1076.08 139.59,1069.7 147.71,1069.7 150.9,1076.08 147.71,1082.46 139.59,1082.46" fill="#000" stroke="#000" stroke-width="0"/>
<polygon points="153.85,1068.53 157.04,1062.15 165.16,1062.15 168.35,1068.53 165.16,1074.91 157.04,1074.91" fill="#000" stroke="#000" stroke-width="0"/>
<polygon points="171.3,1061.73 174.49,1055.35 182.61,1055.35 185.8,1061.73 182.61,1068.11 174.49,1068.11" fill="#000" stroke="#000" stroke-width="0"/>
<polygon points="188.75,1034.92 191.94,1028.54 200.06,1028.54 203.25,1034.92 200.06,1041.3 191.94,1041.3" fill="#000" stroke="#000" stroke-width="0"/>
<polygon points="223.65,1092.7 226.84,1086.32 234.96,1086.32 238.15,1092.7 234.96,1099.08 226.84,1099.08" fill="#000" stroke="#000" stroke-width="0"/>
<polygon points="258.55,1079.1 261.74,1072.72 269.86,1072.72 273.05,1079.1 269.86,1085.48 261.74,1085.48" fill="#000" stroke="#000" stroke-width="0"/>
<polygon points="293.45,1086.28 296.64,1079.9 304.76,1079.9 307.95,1086.28 304.76,1092.66 296.64,1092.66" fill="#000" stroke="#000" stroke-width="0"/>
<polygon points="345.8,1083.63 348.99,1077.25 357.11,1077.25 360.3,1083.63 357.11,1090.02 348.99,1090.02" fill="#000" stroke="#000" stroke-width="0"/>
<polygon points="398.15,1091.19 401.34,1084.81 409.46,1084.81 412.65,1091.19 409.46,1097.57 401.34,1097.57" fill="#000" stroke="#000" stroke-width="0"/>
<polygon points="450.5,1094.96 453.69,1088.58 461.81,1088.58 465,1094.96 461.81,1101.34 453.69,1101.34" fill="#000" stroke="#000" stroke-width="0"/>
<polygon points="502.85,1087.41 506.04,1081.03 514.16,1081.03 517.35,1087.41 514.16,1093.79 506.04,1093.79" fill="#000" stroke="#000" stroke-width="0"/>
</svg>
</body></html>
